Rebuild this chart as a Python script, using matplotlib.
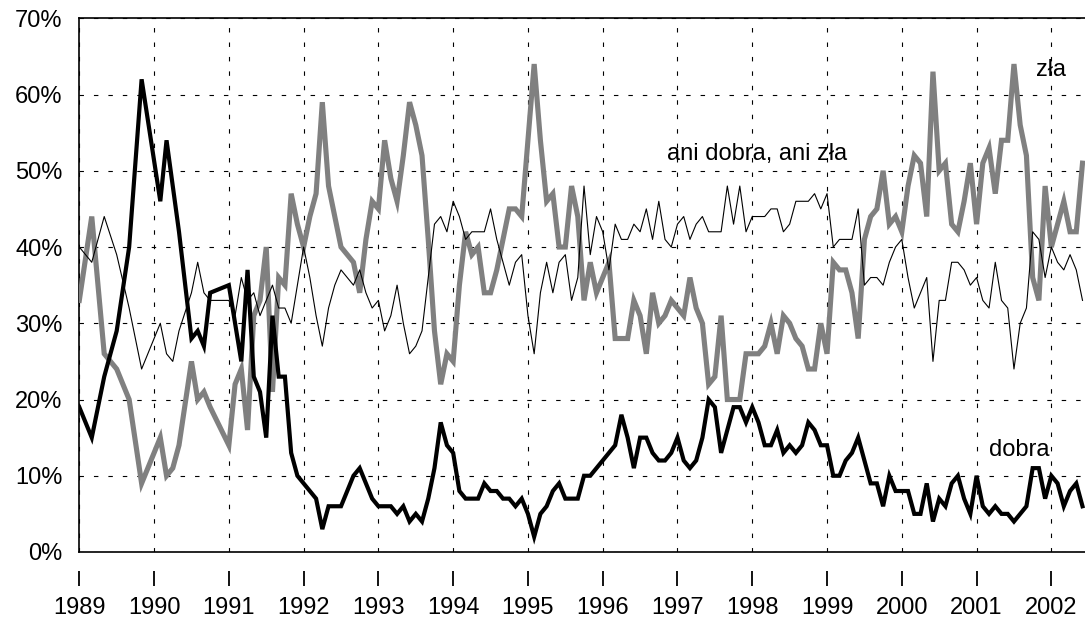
import numpy as np
import pandas as pd
import matplotlib
matplotlib.use('Agg')
import matplotlib.pyplot as plt

plt.rcParams['font.family'] = ['Liberation Sans', 'DejaVu Sans']

# survey dates: irregular until 1990, then monthly
early_months = ['1989-01', '1989-03', '1989-05', '1989-07', '1989-09', '1989-11',
                '1990-02', '1990-03', '1990-04', '1990-05', '1990-07', '1990-08',
                '1990-09', '1990-10']
monthly = pd.date_range('1991-01', '2002-06', freq='MS')
dates = pd.to_datetime(early_months).append(monthly)
t = dates.year + (dates.month - 1) / 12

# dobra (%)
dobra = [19, 15, 23, 29, 40, 62, 46, 54, 48, 42, 28, 29, 27, 34,
         35, 30, 25, 37, 23, 21, 15, 31, 23, 23, 13, 10,
         9, 8, 7, 3, 6, 6, 6, 8, 10, 11, 9, 7,
         6, 6, 6, 5, 6, 4, 5, 4, 7, 11, 17, 14,
         13, 8, 7, 7, 7, 9, 8, 8, 7, 7, 6, 7,
         5, 2, 5, 6, 8, 9, 7, 7, 7, 10, 10, 11,
         12, 13, 14, 18, 15, 11, 15, 15, 13, 12, 12, 13,
         15, 12, 11, 12, 15, 20, 19, 13, 16, 19, 19, 17,
         19, 17, 14, 14, 16, 13, 14, 13, 14, 17, 16, 14,
         14, 10, 10, 12, 13, 15, 12, 9, 9, 6, 10, 8,
         8, 8, 5, 5, 9, 4, 7, 6, 9, 10, 7, 5,
         10, 6, 5, 6, 5, 5, 4, 5, 6, 11, 11, 7,
         10, 9, 6, 8, 9, 6]

# zła (%)
zla = [33, 44, 26, 24, 20, 9, 15, 10, 11, 14, 25, 20, 21, 19,
       14, 22, 24, 16, 31, 33, 40, 21, 36, 35, 47, 43,
       40, 44, 47, 59, 48, 44, 40, 39, 38, 34, 41, 46,
       45, 54, 49, 46, 52, 59, 56, 52, 41, 29, 22, 26,
       25, 35, 42, 39, 40, 34, 34, 37, 41, 45, 45, 44,
       54, 64, 54, 46, 47, 40, 40, 48, 44, 33, 38, 34,
       36, 38, 28, 28, 28, 33, 31, 26, 34, 30, 31, 33,
       32, 31, 36, 32, 30, 22, 23, 31, 20, 20, 20, 26,
       26, 26, 27, 30, 26, 31, 30, 28, 27, 24, 24, 30,
       26, 38, 37, 37, 34, 28, 41, 44, 45, 50, 43, 44,
       42, 48, 52, 51, 44, 63, 50, 51, 43, 42, 46, 51,
       43, 51, 53, 47, 54, 54, 64, 56, 52, 36, 33, 48,
       40, 43, 46, 42, 42, 51]

# ani dobra, ani zła (%)
ani = [40, 38, 44, 39, 32, 24, 30, 26, 25, 29, 34, 38, 34, 33,
       33, 31, 36, 33, 34, 31, 33, 35, 32, 32, 30, 35,
       40, 36, 31, 27, 32, 35, 37, 36, 35, 37, 34, 32,
       33, 29, 31, 35, 30, 26, 27, 29, 36, 43, 44, 42,
       46, 44, 41, 42, 42, 42, 45, 41, 38, 35, 38, 39,
       31, 26, 34, 38, 34, 38, 39, 33, 36, 48, 39, 44,
       42, 37, 43, 41, 41, 43, 42, 45, 41, 46, 41, 40,
       43, 44, 41, 43, 44, 42, 42, 42, 48, 43, 48, 42,
       44, 44, 44, 45, 45, 42, 43, 46, 46, 46, 47, 45,
       47, 40, 41, 41, 41, 45, 35, 36, 36, 35, 38, 40,
       41, 36, 32, 34, 36, 25, 33, 33, 38, 38, 37, 35,
       36, 33, 32, 38, 33, 32, 24, 30, 32, 42, 41, 36,
       40, 38, 37, 39, 37, 33]

years = list(range(1989, 2003))
pct_ticks = list(range(0, 80, 10))

W, H = 1085, 618
fig = plt.figure(figsize=(W / 100, H / 100), dpi=100)
ax = fig.add_axes([79.3 / W, 1 - 552 / H, (W - 79.3) / W, (552 - 18.3) / H])

ax.plot(t, zla, color='#808080', lw=3.7, solid_joinstyle='miter', zorder=3)
ax.plot(t, ani, color='black', lw=0.8, zorder=4)
ax.plot(t, dobra, color='black', lw=3.0, solid_joinstyle='miter', zorder=5)

ax.set_xlim(1989, 2002.45)
ax.set_ylim(0, 70)

ax.set_xticks(years)
ax.set_yticks(pct_ticks)
ax.set_yticklabels([f'{v}%' for v in pct_ticks], fontsize=17)
ax.tick_params(axis='x', length=0, labelbottom=False)
ax.tick_params(axis='y', length=0, pad=12)
ax.grid(True, color='black', lw=0.8, linestyle=(0, (4, 9)))

for s in ['left', 'top', 'bottom']:
    ax.spines[s].set_linewidth(1.2)
ax.spines['right'].set_visible(False)

# year ticks sit a bit below the frame
sec = ax.secondary_xaxis(-19 / (552 - 18.3))
sec.set_xticks(years)
sec.set_xticklabels([str(y) for y in years], fontsize=17)
sec.spines['bottom'].set_visible(False)
sec.tick_params(length=11, width=1.3, pad=8)

ax.text(2002.0, 63.2, 'zła', fontsize=17, ha='center', va='center')
ax.text(1996.86, 52.2, 'ani dobra, ani zła', fontsize=17, ha='left', va='center')
ax.text(2001.57, 13.4, 'dobra', fontsize=17, ha='center', va='center')

fig.savefig('out.png', dpi=100)
